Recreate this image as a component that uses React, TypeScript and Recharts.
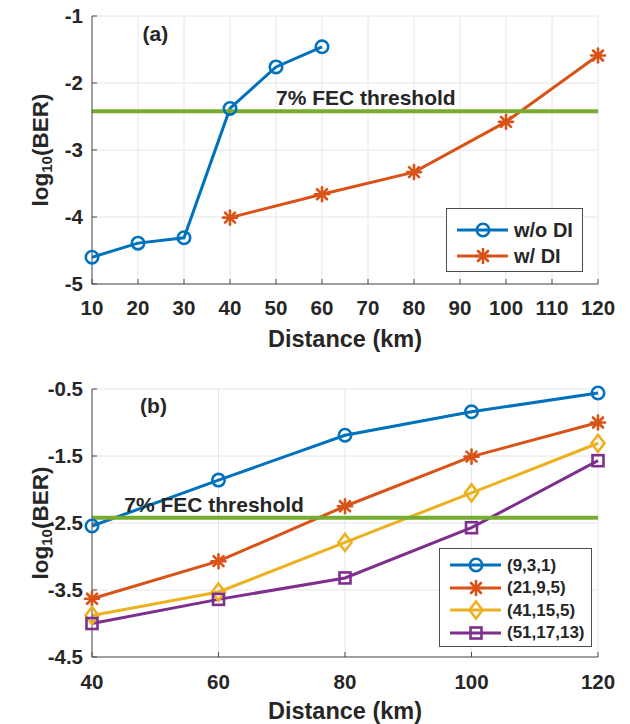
import { CartesianGrid, Legend, Line, LineChart, ReferenceDot, ReferenceLine, XAxis, YAxis } from 'recharts'

type Shape = 'circle' | 'asterisk' | 'diamond' | 'square'

type LegendItem = {
  name: string
  color: string
  shape: Shape
}

const FONT = '"Liberation Sans", Arial, Helvetica, sans-serif'
const TEXT = '#262626'
const AXIS = '#4d4d4d'
const GRID = '#e6e6e6'
const FEC_GREEN = '#77AC30'

const BLUE = '#0072BD'
const ORANGE = '#D95319'
const YELLOW = '#EDB120'
const PURPLE = '#7E2F8E'

// 7% FEC threshold, log10(3.8e-3)
const FEC_THRESHOLD = -2.42

// panel (a)
const kmTicksA = [10, 20, 30, 40, 50, 60, 70, 80, 90, 100, 110, 120]
const berTicksA = [-5, -4, -3, -2, -1]
const woDiKm = [10, 20, 30, 40, 50, 60]
const woDiBer = [-4.6, -4.39, -4.31, -2.38, -1.76, -1.46]
const wDiKm = [40, 60, 80, 100, 120]
const wDiBer = [-4.01, -3.66, -3.33, -2.58, -1.59]

// panel (b)
const kmB = [40, 60, 80, 100, 120]
const berTicksB = [-4.5, -3.5, -2.5, -1.5, -0.5]
const ber931 = [-2.545, -1.86, -1.19, -0.84, -0.56]
const ber2195 = [-3.63, -3.07, -2.25, -1.51, -1.0]
const ber41155 = [-3.88, -3.53, -2.79, -2.05, -1.31]
const ber511713 = [-4.0, -3.64, -3.32, -2.57, -1.57]

const woDiData = woDiKm.map((x, i) => ({ x, y: woDiBer[i] }))
const wDiData = wDiKm.map((x, i) => ({ x, y: wDiBer[i] }))
const dataB = kmB.map((km, i) => ({
  km,
  s931: ber931[i],
  s2195: ber2195[i],
  s41155: ber41155[i],
  s511713: ber511713[i],
}))

const legendA: LegendItem[] = [
  { name: 'w/o DI', color: BLUE, shape: 'circle' },
  { name: 'w/ DI', color: ORANGE, shape: 'asterisk' },
]

const legendB: LegendItem[] = [
  { name: '(9,3,1)', color: BLUE, shape: 'circle' },
  { name: '(21,9,5)', color: ORANGE, shape: 'asterisk' },
  { name: '(41,15,5)', color: YELLOW, shape: 'diamond' },
  { name: '(51,17,13)', color: PURPLE, shape: 'square' },
]

const tickStyle = { fontSize: 20.5, fontWeight: 700, fill: TEXT, fontFamily: FONT }
const annotStyle = { fontSize: 21, fontWeight: 700, fill: TEXT, fontFamily: FONT }
const titleStyle = { fontSize: 23.5, fontWeight: 700, fill: TEXT, fontFamily: FONT }

function Marker({ shape, cx, cy, color }: { shape: Shape; cx: number; cy: number; color: string }) {
  const stroke = { fill: 'none', stroke: color, strokeWidth: 2.6 }
  if (shape === 'circle') {
    return <circle cx={cx} cy={cy} r={6.2} {...stroke} />
  }
  if (shape === 'diamond') {
    return (
      <polygon
        points={`${cx},${cy - 8.5} ${cx + 6.5},${cy} ${cx},${cy + 8.5} ${cx - 6.5},${cy}`}
        {...stroke}
      />
    )
  }
  if (shape === 'square') {
    return <rect x={cx - 5.5} y={cy - 5.5} width={11} height={11} {...stroke} />
  }
  const s = 7
  const d = 5
  return (
    <g stroke={color} strokeWidth={2.6} strokeLinecap="round">
      <line x1={cx - s} x2={cx + s} y1={cy} y2={cy} />
      <line x1={cx} x2={cx} y1={cy - s} y2={cy + s} />
      <line x1={cx - d} x2={cx + d} y1={cy - d} y2={cy + d} />
      <line x1={cx - d} x2={cx + d} y1={cy + d} y2={cy - d} />
    </g>
  )
}

function makeDot(shape: Shape, color: string) {
  return (props: any) => {
    const { cx, cy, index } = props
    if (cx == null || cy == null) return <g key={index} />
    return <Marker key={index} shape={shape} cx={cx} cy={cy} color={color} />
  }
}

function LegendBox({ items, fontSize, rows }: { items: LegendItem[]; fontSize: number; rows: number[] }) {
  return (
    <div
      style={{
        position: 'relative',
        width: '100%',
        height: '100%',
        boxSizing: 'border-box',
        border: `1px solid ${AXIS}`,
        background: '#fff',
      }}
    >
      {items.map((item, i) => (
        <div
          key={item.name}
          style={{ position: 'absolute', left: 0, top: rows[i] - 13, height: 26, display: 'flex', alignItems: 'center' }}
        >
          <svg width={66} height={26} style={{ display: 'block' }}>
            <line x1={10} x2={61} y1={13} y2={13} stroke={item.color} strokeWidth={3} />
            <Marker shape={item.shape} cx={36} cy={13} color={item.color} />
          </svg>
          <span
            style={{
              fontFamily: FONT,
              fontSize,
              fontWeight: 700,
              color: TEXT,
              marginLeft: 1,
              lineHeight: 1,
              whiteSpace: 'nowrap',
            }}
          >
            {item.name}
          </span>
        </div>
      ))}
    </div>
  )
}

function YLabel(props: any) {
  const vb = props.viewBox ?? { x: 0, y: 0, width: 0, height: 0 }
  const cx = vb.x + 40
  const cy = vb.y + vb.height / 2
  return (
    <text
      x={cx}
      y={cy}
      transform={`rotate(-90 ${cx} ${cy})`}
      textAnchor="middle"
      dominantBaseline="central"
      fontFamily={FONT}
      fontSize={22.5}
      fontWeight={700}
      fill={TEXT}
    >
      log
      <tspan fontSize={15} dy={6}>
        10
      </tspan>
      <tspan dy={-6}>(BER)</tspan>
    </text>
  )
}

function PanelA() {
  return (
    <LineChart width={630} height={360} margin={{ top: 16, right: 32, bottom: 0, left: 0 }}>
      <CartesianGrid stroke={GRID} strokeWidth={1} />
      <XAxis
        type="number"
        dataKey="x"
        domain={[10, 120]}
        ticks={kmTicksA}
        interval={0}
        height={76}
        tick={tickStyle}
        tickSize={-5}
        tickMargin={21}
        axisLine={{ stroke: AXIS }}
        tickLine={{ stroke: AXIS }}
        label={{ value: 'Distance (km)', position: 'insideBottom', offset: 13, ...titleStyle }}
      />
      <XAxis
        xAxisId="top"
        orientation="top"
        type="number"
        dataKey="x"
        domain={[10, 120]}
        ticks={kmTicksA}
        interval={0}
        allowDataOverflow
        height={0}
        tick={false}
        tickSize={-5}
        axisLine={{ stroke: AXIS }}
        tickLine={{ stroke: AXIS }}
      />
      <YAxis
        type="number"
        domain={[-5, -1]}
        ticks={berTicksA}
        interval={0}
        width={92}
        tick={tickStyle}
        tickSize={-5}
        tickMargin={14}
        axisLine={{ stroke: AXIS }}
        tickLine={{ stroke: AXIS }}
        label={{ content: (p: any) => <YLabel {...p} /> }}
      />
      <YAxis
        yAxisId="right"
        orientation="right"
        type="number"
        domain={[-5, -1]}
        ticks={berTicksA}
        interval={0}
        allowDataOverflow
        width={0}
        tick={false}
        tickSize={-5}
        axisLine={{ stroke: AXIS }}
        tickLine={{ stroke: AXIS }}
      />
      <Line
        data={woDiData}
        dataKey="y"
        stroke={BLUE}
        strokeWidth={3}
        dot={makeDot('circle', BLUE)}
        activeDot={false}
        isAnimationActive={false}
      />
      <Line
        data={wDiData}
        dataKey="y"
        stroke={ORANGE}
        strokeWidth={3}
        dot={makeDot('asterisk', ORANGE)}
        activeDot={false}
        isAnimationActive={false}
      />
      <ReferenceLine y={FEC_THRESHOLD} stroke={FEC_GREEN} strokeWidth={4} />
      <ReferenceDot
        x={21}
        y={-1.26}
        r={0}
        stroke="none"
        fill="none"
        label={{ value: '(a)', position: 'right', offset: 0, ...annotStyle }}
      />
      <ReferenceDot
        x={50}
        y={-2.22}
        r={0}
        stroke="none"
        fill="none"
        label={{ value: '7% FEC threshold', position: 'right', offset: 0, ...annotStyle }}
      />
      <Legend
        layout="vertical"
        align="center"
        verticalAlign="middle"
        wrapperStyle={{ left: 446, top: 208, width: 137, height: 64 }}
        content={() => <LegendBox items={legendA} fontSize={20} rows={[21, 47]} />}
      />
    </LineChart>
  )
}

function PanelB() {
  return (
    <LineChart width={630} height={364} data={dataB} margin={{ top: 29, right: 32, bottom: 0, left: 0 }}>
      <CartesianGrid stroke={GRID} strokeWidth={1} />
      <XAxis
        type="number"
        dataKey="km"
        domain={[40, 120]}
        ticks={kmB}
        interval={0}
        height={67}
        tick={tickStyle}
        tickSize={-5}
        tickMargin={22}
        axisLine={{ stroke: AXIS }}
        tickLine={{ stroke: AXIS }}
        label={{ value: 'Distance (km)', position: 'insideBottom', offset: 5, ...titleStyle }}
      />
      <XAxis
        xAxisId="top"
        orientation="top"
        type="number"
        dataKey="km"
        domain={[40, 120]}
        ticks={kmB}
        interval={0}
        allowDataOverflow
        height={0}
        tick={false}
        tickSize={-5}
        axisLine={{ stroke: AXIS }}
        tickLine={{ stroke: AXIS }}
      />
      <YAxis
        type="number"
        domain={[-4.5, -0.5]}
        ticks={berTicksB}
        interval={0}
        width={92}
        tick={tickStyle}
        tickSize={-5}
        tickMargin={14}
        axisLine={{ stroke: AXIS }}
        tickLine={{ stroke: AXIS }}
        label={{ content: (p: any) => <YLabel {...p} /> }}
      />
      <YAxis
        yAxisId="right"
        orientation="right"
        type="number"
        domain={[-4.5, -0.5]}
        ticks={berTicksB}
        interval={0}
        allowDataOverflow
        width={0}
        tick={false}
        tickSize={-5}
        axisLine={{ stroke: AXIS }}
        tickLine={{ stroke: AXIS }}
      />
      <Line dataKey="s931" stroke={BLUE} strokeWidth={3} dot={makeDot('circle', BLUE)} activeDot={false} isAnimationActive={false} />
      <Line dataKey="s2195" stroke={ORANGE} strokeWidth={3} dot={makeDot('asterisk', ORANGE)} activeDot={false} isAnimationActive={false} />
      <Line dataKey="s41155" stroke={YELLOW} strokeWidth={3} dot={makeDot('diamond', YELLOW)} activeDot={false} isAnimationActive={false} />
      <Line dataKey="s511713" stroke={PURPLE} strokeWidth={3} dot={makeDot('square', PURPLE)} activeDot={false} isAnimationActive={false} />
      <ReferenceLine y={FEC_THRESHOLD} stroke={FEC_GREEN} strokeWidth={4} />
      <ReferenceDot
        x={47.6}
        y={-0.75}
        r={0}
        stroke="none"
        fill="none"
        label={{ value: '(b)', position: 'right', offset: 0, ...annotStyle }}
      />
      <ReferenceDot
        x={45.1}
        y={-2.23}
        r={0}
        stroke="none"
        fill="none"
        label={{ value: '7% FEC threshold', position: 'right', offset: 0, ...annotStyle }}
      />
      <Legend
        layout="vertical"
        align="center"
        verticalAlign="middle"
        wrapperStyle={{ left: 439, top: 188, width: 153, height: 99 }}
        content={() => <LegendBox items={legendB} fontSize={17} rows={[16, 38.5, 61, 83.5]} />}
      />
    </LineChart>
  )
}

export default function App() {
  return (
    <div style={{ position: 'absolute', left: 0, top: 0, width: 630, height: 724, background: '#fff' }}>
      <div style={{ position: 'absolute', left: 0, top: 0 }}>
        <PanelA />
      </div>
      <div style={{ position: 'absolute', left: 0, top: 360 }}>
        <PanelB />
      </div>
    </div>
  )
}
